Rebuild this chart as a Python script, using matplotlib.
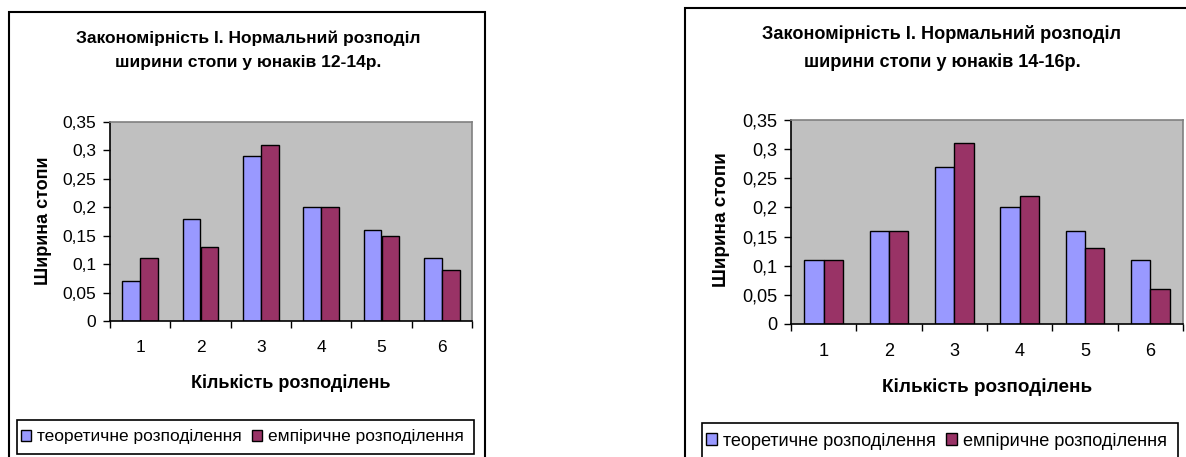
import matplotlib
matplotlib.use("Agg")
import matplotlib.pyplot as plt
from matplotlib.patches import Rectangle
from matplotlib.ticker import FuncFormatter

plt.rcParams['font.family'] = ['Liberation Sans', 'DejaVu Sans']

# data
categories = [1, 2, 3, 4, 5, 6]
theor_12_14 = [0.07, 0.18, 0.29, 0.20, 0.16, 0.11]
emp_12_14 = [0.11, 0.13, 0.31, 0.20, 0.15, 0.09]
theor_14_16 = [0.11, 0.16, 0.27, 0.20, 0.16, 0.11]
emp_14_16 = [0.11, 0.16, 0.31, 0.22, 0.13, 0.06]
yticks = [0, 0.05, 0.1, 0.15, 0.2, 0.25, 0.3, 0.35]

title_12_14 = "Закономірність І. Нормальний розподіл\nширини стопи у юнаків 12-14р."
title_14_16 = "Закономірність І. Нормальний розподіл\nширини стопи у юнаків 14-16р."
xlab = "Кількість розподілень"
ylab = "Ширина стопи"
leg_labels = ["теоретичне розподілення", "емпіричне розподілення"]

c_theor = "#9999FF"
c_emp = "#993366"

W, H = 1186, 457
fig = plt.figure(figsize=(W / 100, H / 100), dpi=100)


def px_axes(x0, y0, x1, y1):
    return fig.add_axes([x0 / W, 1 - y1 / H, (x1 - x0) / W, (y1 - y0) / H])


def comma(v, pos):
    s = ("%.2f" % v).rstrip("0").rstrip(".")
    return s.replace(".", ",")


def draw_chart(box, title, tpos, theor, emp, ylpos, xlpos, legbox, leg_x, leg_y, fs):
    ax = px_axes(*box)
    ax.set_facecolor("#C0C0C0")
    w = 0.295
    x = range(len(categories))
    b1 = ax.bar([i + 1 - w / 2 for i in x], theor, width=w, color=c_theor,
                edgecolor="black", linewidth=1.0)
    b2 = ax.bar([i + 1 + w / 2 for i in x], emp, width=w, color=c_emp,
                edgecolor="black", linewidth=1.0)
    ax.set_xlim(0.5, 6.5)
    ax.set_ylim(0, 0.35)
    ax.set_yticks(yticks)
    ax.yaxis.set_major_formatter(FuncFormatter(comma))
    ax.set_xticks([i + 0.5 for i in range(7)])
    ax.set_xticklabels([])
    ax.set_xticks(categories, minor=True)
    ax.set_xticklabels([str(c) for c in categories], minor=True)
    ax.tick_params(axis="x", which="major", direction="out", length=5, width=1)
    ax.tick_params(axis="x", which="minor", length=0, pad=14, labelsize=fs)
    ax.tick_params(axis="y", direction="out", length=5, width=1, labelsize=fs, pad=5)
    for s in ["top", "right"]:
        ax.spines[s].set_color("#808080")
        ax.spines[s].set_linewidth(1.2)
    for s in ["left", "bottom"]:
        ax.spines[s].set_color("black")
        ax.spines[s].set_linewidth(1.2)

    fig.text(tpos[0] / W, 1 - tpos[1] / H, title, ha="center", va="center",
             fontsize=fs, fontweight="bold", linespacing=1.75)
    fig.text(ylpos[0] / W, 1 - ylpos[1] / H, ylab, ha="center", va="center",
             rotation=90, fontsize=fs + 0.5, fontweight="bold")
    fig.text(xlpos[0] / W, 1 - xlpos[1] / H, xlab, ha="center", va="center",
             fontsize=fs + 0.5, fontweight="bold")

    lx0, ly0, lx1, ly1 = legbox
    fig.patches.append(Rectangle((lx0 / W, 1 - ly1 / H), (lx1 - lx0) / W, (ly1 - ly0) / H,
                                 transform=fig.transFigure, fill=False,
                                 edgecolor="black", linewidth=1.2))
    fig.legend([b1, b2], leg_labels, loc="center left",
               bbox_to_anchor=(leg_x / W, 1 - leg_y / H),
               ncol=2, frameon=False, fontsize=fs, handlelength=0.6,
               handleheight=0.6, handletextpad=0.35, columnspacing=0.55,
               borderaxespad=0, borderpad=0)
    return ax


# outer chart frames
fig.patches.append(Rectangle((9 / W, -0.05), (485 - 9) / W, 1.05 - 12 / H,
                             transform=fig.transFigure, fill=False,
                             edgecolor="black", linewidth=1.5))
fig.patches.append(Rectangle((685 / W, -0.05), 0.5, 1.05 - 8 / H,
                             transform=fig.transFigure, fill=False,
                             edgecolor="black", linewidth=1.5))

draw_chart((110, 122, 472, 321), title_12_14, (248, 50), theor_12_14, emp_12_14,
           (43, 221), (291, 383), (17, 420, 474, 454), 21, 437, 12.5)
draw_chart((791, 120, 1183, 324), title_14_16, (942, 48), theor_14_16, emp_14_16,
           (722, 220), (987, 387), (702, 423, 1178, 470), 706, 441, 13.1)

fig.savefig("out.png", dpi=100)
